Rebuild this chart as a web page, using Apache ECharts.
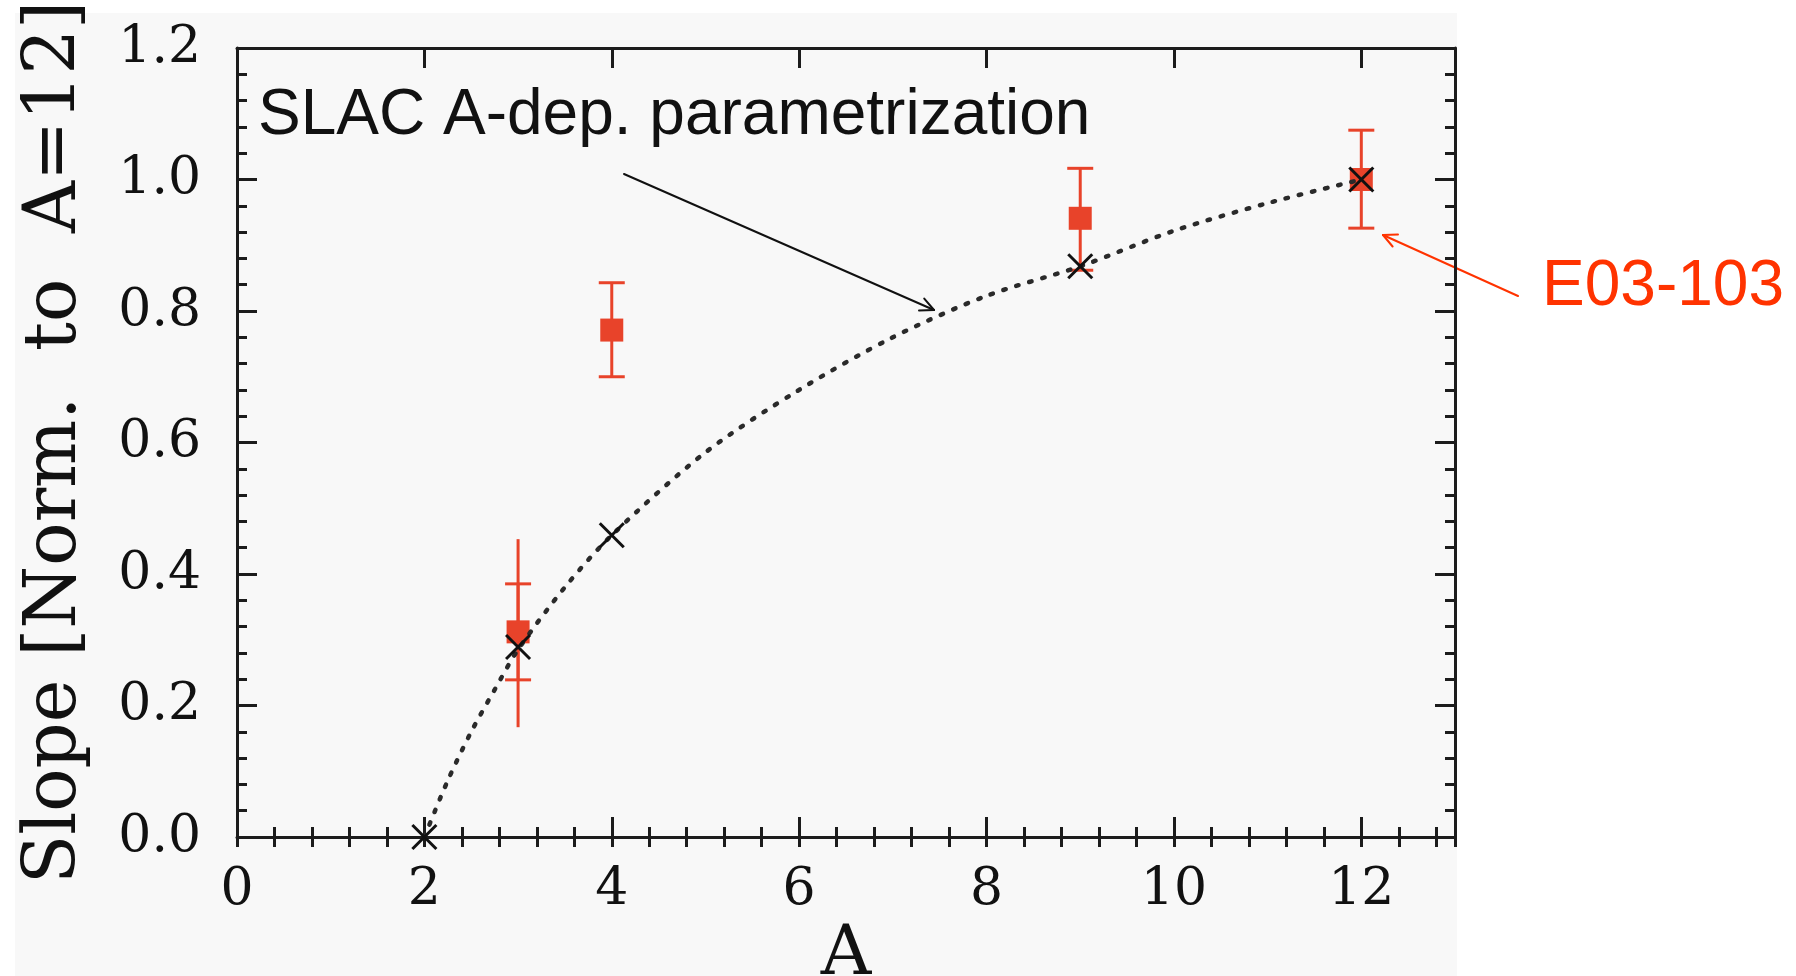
<!DOCTYPE html>
<html>
<head>
<meta charset="utf-8">
<script src="https://cdn.jsdelivr.net/npm/echarts@6/dist/echarts.min.js"></script>
<style>
html,body{margin:0;padding:0;background:#ffffff;}
#chart{width:1796px;height:976px;}
</style>
</head>
<body>
<div id="chart"></div>
<script>
// ---- data ----
const xTickValues = [0, 2, 4, 6, 8, 10, 12];
const yTickValues = [0.0, 0.2, 0.4, 0.6, 0.8, 1.0, 1.2];

// SLAC A-dependence parametrization (black crosses)
const slacA = [2, 3, 4, 9, 12];
const slacSlope = [0.0, 0.289, 0.459, 0.868, 1.0];

// dotted parametrization curve
const curveA = [2, 2.25, 2.5, 2.75, 3, 3.5, 4, 5, 6, 7, 8, 9, 10, 11, 12];
const curveSlope = [0.0, 0.086, 0.16, 0.224, 0.285, 0.38, 0.459, 0.585, 0.68, 0.76, 0.823, 0.868, 0.922, 0.964, 1.0];

// E03-103 measurement (red squares)
const e03A = [3, 4, 9, 12];
const e03Slope = [0.312, 0.771, 0.941, 1.0];
const e03ErrLow = [0.239, 0.700, 0.862, 0.926];
const e03ErrHigh = [0.385, 0.843, 1.017, 1.075];

// outer (total) error bar for A=3
const totalA = [3];
const totalLow = [0.167];
const totalHigh = [0.453];

const xAxisName = 'A';
const yAxisName = 'Slope [Norm.  to  A=12]';
const curveLabel = 'SLAC A-dep. parametrization';
const dataLabel = 'E03-103';

// ---- chart ----
const RED = '#e8432a';
const TEXTRED = '#ff3300';
const INK = '#1c1c1c';
const SERIF = '"DejaVu Serif", "Liberation Serif", serif';
const SANS = '"Liberation Sans", Arial, sans-serif';

const chart = echarts.init(document.getElementById('chart'), null, {renderer: 'canvas'});

const errRows = e03A.map((a, i) => [a, e03ErrLow[i], e03ErrHigh[i]]);
const totRows = totalA.map((a, i) => [a, totalLow[i], totalHigh[i]]);

function errRender(withCaps) {
  return function (params, api) {
    const x = api.value(0), lo = api.value(1), hi = api.value(2);
    const pLo = api.coord([x, lo]);
    const pHi = api.coord([x, hi]);
    const cw = 13;
    const st = {stroke: RED, lineWidth: 3};
    const ch = [{type: 'line', shape: {x1: pLo[0], y1: pLo[1], x2: pHi[0], y2: pHi[1]}, style: st}];
    if (withCaps) {
      ch.push({type: 'line', shape: {x1: pLo[0] - cw, y1: pLo[1], x2: pLo[0] + cw, y2: pLo[1]}, style: st});
      ch.push({type: 'line', shape: {x1: pHi[0] - cw, y1: pHi[1], x2: pHi[0] + cw, y2: pHi[1]}, style: st});
    }
    return {type: 'group', children: ch};
  };
}

function crossRender(params, api) {
  const p = api.coord([api.value(0), api.value(1)]);
  const h = 12;
  const st = {stroke: '#111111', lineWidth: 3};
  return {type: 'group', children: [
    {type: 'line', shape: {x1: p[0] - h, y1: p[1] - h, x2: p[0] + h, y2: p[1] + h}, style: st},
    {type: 'line', shape: {x1: p[0] - h, y1: p[1] + h, x2: p[0] + h, y2: p[1] - h}, style: st}
  ]};
}

const axisLine = {show: true, onZero: false, lineStyle: {color: INK, width: 3}};

function xMajor(pos, showLabels) {
  return {
    type: 'value', position: pos, min: 0, max: 13, interval: 2,
    gridIndex: 0,
    axisLine: axisLine,
    axisTick: {show: true, inside: true, length: 20, lineStyle: {color: INK, width: 3}},
    axisLabel: showLabels ? {
      show: true, margin: 27, color: '#111', fontFamily: SERIF, fontSize: 52,
      formatter: v => (xTickValues.indexOf(v) >= 0 ? String(v) : '')
    } : {show: false},
    splitLine: {show: false},
    name: showLabels ? xAxisName : '',
    nameLocation: 'middle', nameGap: 83,
    nameTextStyle: {fontFamily: SERIF, fontSize: 70, color: '#111'}
  };
}
function xMinor(pos) {
  return {
    type: 'value', position: pos, min: 0, max: 13, interval: 0.4,
    gridIndex: 0,
    axisLine: {show: false},
    axisTick: {show: true, inside: true, length: 10, lineStyle: {color: INK, width: 3}},
    axisLabel: {show: false},
    splitLine: {show: false}
  };
}
function yAx(pos, showLabels) {
  return {
    type: 'value', position: pos, min: 0, max: 1.2, interval: 0.2,
    gridIndex: 0,
    axisLine: axisLine,
    axisTick: {show: true, inside: true, length: 20, lineStyle: {color: INK, width: 3}},
    minorTick: {show: true, splitNumber: 5, length: 10, lineStyle: {color: INK, width: 3}},
    axisLabel: showLabels ? {
      show: true, margin: 36, color: '#111', fontFamily: SERIF, fontSize: 52,
      formatter: v => (yTickValues.some(t => Math.abs(t - v) < 1e-9) ? v.toFixed(1) : '')
    } : {show: false},
    splitLine: {show: false},
    minorSplitLine: {show: false},
    name: showLabels ? yAxisName : '',
    nameLocation: 'middle', nameGap: 145, nameRotate: 90,
    nameTextStyle: {fontFamily: SERIF, fontSize: 72, color: '#111'}
  };
}

function arrowGroup(x1, y1, x2, y2, color, width) {
  const ang = Math.atan2(y2 - y1, x2 - x1);
  const L = 15, a = 0.45;
  const st = {stroke: color, lineWidth: width, lineCap: 'round'};
  return {
    type: 'group', z: 50,
    children: [
      {type: 'line', shape: {x1: x1, y1: y1, x2: x2, y2: y2}, style: st},
      {type: 'line', shape: {x1: x2, y1: y2, x2: x2 - L * Math.cos(ang - a), y2: y2 - L * Math.sin(ang - a)}, style: st},
      {type: 'line', shape: {x1: x2, y1: y2, x2: x2 - L * Math.cos(ang + a), y2: y2 - L * Math.sin(ang + a)}, style: st}
    ]
  };
}

const option = {
  animation: false,
  backgroundColor: '#ffffff',
  grid: {left: 237, right: 341, top: 48, bottom: 139, containLabel: false, outerBoundsMode: 'none'},
  xAxis: [xMajor('bottom', true), xMinor('bottom'), xMajor('top', false), xMinor('top')],
  yAxis: [yAx('left', true), yAx('right', false)],
  graphic: [
    {type: 'rect', z: -10, silent: true, shape: {x: 15, y: 13, width: 1442, height: 963}, style: {fill: '#f8f8f8'}},
    {type: 'text', z: 50, style: {x: 258, y: 116, text: curveLabel, font: '64px ' + SANS, fill: '#111111', textVerticalAlign: 'middle', verticalAlign: 'middle'}},
    {type: 'text', z: 50, style: {x: 1542, y: 287, text: dataLabel, font: '64px ' + SANS, fill: TEXTRED, textVerticalAlign: 'middle', verticalAlign: 'middle'}},
    arrowGroup(624, 174, 934, 310, '#111111', 2),
    arrowGroup(1518, 296, 1383, 235, TEXTRED, 2)
  ],
  series: [
    {
      name: 'total error', type: 'custom', xAxisIndex: 0, yAxisIndex: 0, z: 2,
      renderItem: errRender(false), encode: {x: 0, y: [1, 2]}, data: totRows
    },
    {
      name: 'error', type: 'custom', xAxisIndex: 0, yAxisIndex: 0, z: 2,
      renderItem: errRender(true), encode: {x: 0, y: [1, 2]}, data: errRows
    },
    {
      name: dataLabel, type: 'scatter', xAxisIndex: 0, yAxisIndex: 0, z: 3,
      symbol: 'rect', symbolSize: 23, itemStyle: {color: RED, opacity: 1},
      data: e03A.map((a, i) => [a, e03Slope[i]])
    },
    {
      name: curveLabel, type: 'line', xAxisIndex: 0, yAxisIndex: 0, z: 4,
      smooth: 0.3, showSymbol: false, symbol: 'none',
      lineStyle: {color: '#2a2a2a', width: 4.5, type: [2.5, 11], cap: 'round'},
      data: curveA.map((a, i) => [a, curveSlope[i]])
    },
    {
      name: 'SLAC points', type: 'custom', xAxisIndex: 0, yAxisIndex: 0, z: 5,
      renderItem: crossRender, encode: {x: 0, y: 1},
      data: slacA.map((a, i) => [a, slacSlope[i]])
    }
  ]
};
chart.setOption(option);
</script>
</body>
</html>
